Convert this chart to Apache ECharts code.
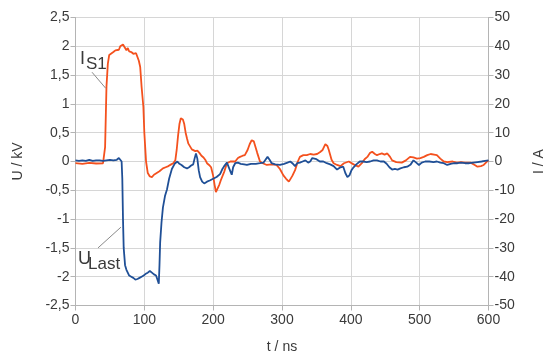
<!DOCTYPE html>
<html>
<head>
<meta charset="utf-8">
<script src="https://cdn.jsdelivr.net/npm/echarts@6/dist/echarts.min.js"></script>
<style>
  html, body { margin: 0; padding: 0; background: #fff; }
  #chart { width: 547px; height: 358px; }
</style>
</head>
<body>
<div id="chart"></div>
<script>
// I_S1 (orange), time in ns, current in A (right axis)
var tIs = [0, 10, 20, 30, 40, 42, 43, 45, 47, 49, 52, 55, 58, 60, 63, 65, 67, 69, 71, 74, 76, 78, 81, 84, 86, 88, 90, 92, 94, 96, 98.6, 100, 102.5, 105, 108, 111, 114, 118, 122, 127, 131, 135, 139, 142, 145, 147, 149, 151, 153, 154.5, 156, 158, 160, 162, 164, 166, 169, 171, 174, 177, 180, 183, 186, 189, 191, 194, 197, 200, 202, 204, 206, 209, 211, 213, 216, 220, 225, 232, 236, 239, 243, 246, 250, 253, 256, 259, 261, 264, 268, 272, 278, 285, 292, 297, 302, 306, 310, 312, 315, 319, 323, 326, 331, 336, 341, 346, 351, 355, 359, 363, 366, 368, 372, 375, 380, 385, 390, 397, 404, 411, 416, 420, 424, 428, 431, 435, 438, 442, 445, 449, 453, 457, 460, 466, 474, 480, 486, 491, 496, 501, 506, 511, 516, 521, 525, 530, 535, 540, 548, 554, 560, 566, 574, 580, 584, 589, 593, 597, 600];
var iS1 = [-0.6, -0.8, -0.5, -0.7, -0.6, -0.8, 5, 26, 34, 37, 37.5, 38, 38.6, 39.2, 38.8, 40, 40.4, 40.6, 40, 38.6, 39.4, 38.2, 38, 37.4, 37, 37.6, 37.2, 35, 32.8, 26, 19, 10, 0, -4, -5.2, -5.4, -4.6, -4, -3.4, -2.4, -2, -1.6, -1, -0.6, 0.4, 4, 9, 13, 15, 15.2, 14.6, 13, 10, 8, 6.2, 5.6, 4.2, 4, 3.6, 3.8, 3, 2, 1.4, 0.4, -0.6, -1.2, -2, -5, -8, -10.6, -10, -8, -6.6, -6, -3.6, -0.6, 0, 0, 1.2, 1.6, 2, 2.2, 4, 6, 7.4, 7, 6.8, 3, 0, -0.6, -1.2, -1, -1.2, -2.6, -4.8, -6, -7, -7.2, -5, -3, 0, 1.6, 2.2, 2.2, 2.6, 2.4, 2.6, 3.2, 4, 6, 5.4, 4, 0.6, -0.6, -1.2, -1.6, -0.6, 0, -1, -1.8, -0.6, 0.8, 1.6, 3, 3.4, 2.6, 2.2, 2.6, 2.8, 2.4, 2.8, 1.6, 0.4, -0.2, -0.4, 0.4, 1.6, 1.4, 1, 1.2, 1.6, 2.2, 2.6, 2.4, 2.2, 1, 0, -0.2, 0, -0.4, -0.2, -0.4, -0.4, -1.2, -1.8, -1.6, -1.2, -0.2, 0.4];

// U_Last (blue), time in ns, voltage in kV (left axis)
var tU = [0, 5, 10, 15, 20, 25, 30, 35, 40, 45, 50, 55, 60, 63, 65, 67, 68, 69, 70, 72, 74, 76, 78, 81, 84, 87, 90, 93, 96, 99, 102, 105, 108, 111, 114, 117, 119, 121, 122, 123, 125, 127, 130, 133, 136, 140, 144, 148, 151, 154, 158, 162, 165, 168, 171, 173, 175, 177, 179, 181, 184, 187, 191, 195, 200, 205, 210, 213, 216, 220, 222, 225, 227, 229, 232, 236, 240, 245, 249, 255, 262, 268, 273, 276, 279, 282, 285, 290, 297, 303, 308, 312, 316, 319, 322, 326, 330, 334, 338, 341, 344, 346, 350, 355, 360, 365, 370, 375, 380, 385, 389, 392, 395, 398, 401, 404, 408, 413, 418, 423, 428, 433, 438, 443, 448, 452, 456, 460, 464, 468, 472, 477, 482, 487, 491, 495, 499, 503, 508, 514, 520, 525, 530, 535, 540, 545, 550, 555, 560, 566, 572, 578, 584, 590, 595, 600];
var uLast = [0.02, 0.01, 0.02, 0.01, 0.03, 0.01, 0.02, 0.02, 0.01, 0.02, 0.03, 0.02, 0.03, 0.06, 0.05, 0, -0.3, -1.0, -1.5, -1.8, -1.88, -1.9, -1.98, -2.0, -2.02, -2.05, -2.04, -2.02, -2.0, -1.98, -1.95, -1.93, -1.9, -1.93, -1.96, -1.98, -2.05, -2.12, -1.8, -1.4, -1.05, -0.8, -0.6, -0.48, -0.3, -0.13, -0.04, 0, -0.04, -0.06, -0.1, -0.12, -0.1, -0.07, -0.05, 0.05, 0.14, 0.05, -0.15, -0.27, -0.35, -0.38, -0.35, -0.33, -0.3, -0.27, -0.22, -0.14, -0.08, -0.02, -0.05, -0.17, -0.23, -0.1, -0.03, -0.02, -0.04, -0.05, -0.06, -0.04, -0.04, -0.03, -0.02, 0.03, 0.08, 0.03, -0.03, -0.05, -0.06, -0.04, -0.02, 0, -0.04, -0.08, -0.03, -0.02, 0, 0.02, -0.02, 0, 0.06, 0.08, 0.04, 0, 0, -0.03, -0.05, -0.08, -0.14, -0.1, -0.09, -0.2, -0.27, -0.24, -0.15, -0.1, -0.05, 0, 0, -0.01, 0, 0.02, 0.02, 0, 0, -0.04, -0.1, -0.14, -0.13, -0.14, -0.12, -0.1, -0.09, -0.05, 0.02, -0.02, -0.06, -0.02, 0, 0, -0.01, 0, -0.02, -0.03, -0.06, -0.04, -0.03, -0.03, -0.02, -0.03, -0.03, -0.02, -0.01, 0, 0.01, 0.02];

var xTicks = { min: 0, max: 600, step: 100 };
var uTicks = { min: -2.5, max: 2.5, step: 0.5 };
var iTicks = { min: -50, max: 50, step: 10 };

var axisGray = '#b4b4b4';
var gridGray = '#d6d6d6';
var textGray = '#3a3a3a';
var font = 'Liberation Sans';

function pairs(xs, ys) {
    return xs.map(function (x, i) { return [x, ys[i]]; });
}

var chart = echarts.init(document.getElementById('chart'));

var option = {
    animation: false,
    backgroundColor: '#fff',
    textStyle: { fontFamily: font },
    grid: { left: 75.5, right: 58.5, top: 17.5, bottom: 52.5, containLabel: false, outerBoundsMode: 'none' },
    xAxis: {
        type: 'value',
        min: xTicks.min, max: xTicks.max, interval: xTicks.step,
        name: 't / ns', nameLocation: 'middle', nameGap: 35,
        nameTextStyle: { color: textGray, fontSize: 14, fontFamily: font },
        axisLine: { show: true, onZero: false, lineStyle: { color: axisGray } },
        axisTick: { show: true, length: 5, lineStyle: { color: axisGray } },
        axisLabel: { color: textGray, fontSize: 14, fontFamily: font, margin: 8 },
        splitLine: { show: true, lineStyle: { color: gridGray } }
    },
    yAxis: [{
        type: 'value',
        min: uTicks.min, max: uTicks.max, interval: uTicks.step,
        name: 'U / kV', nameLocation: 'middle', nameGap: 50, nameRotate: 90,
        nameTextStyle: { color: textGray, fontSize: 14, fontFamily: font },
        axisLine: { show: true, onZero: false, lineStyle: { color: axisGray } },
        axisTick: { show: true, length: 5, lineStyle: { color: axisGray } },
        axisLabel: {
            color: textGray, fontSize: 14, fontFamily: font, margin: 6,
            formatter: function (v) { return String(Math.round(v * 10) / 10).replace('.', ','); }
        },
        splitLine: { show: true, lineStyle: { color: gridGray } }
    }, {
        type: 'value',
        position: 'right',
        min: iTicks.min, max: iTicks.max, interval: iTicks.step,
        name: 'I / A', nameLocation: 'middle', nameGap: 44, nameRotate: 90,
        nameTextStyle: { color: textGray, fontSize: 14, fontFamily: font },
        axisLine: { show: true, onZero: false, lineStyle: { color: axisGray } },
        axisTick: { show: true, length: 5, lineStyle: { color: axisGray } },
        axisLabel: { color: textGray, fontSize: 14, fontFamily: font, margin: 6 },
        splitLine: { show: false }
    }],
    series: [{
        name: 'I_S1',
        type: 'line',
        yAxisIndex: 1,
        data: pairs(tIs, iS1),
        showSymbol: false,
        smooth: false,
        lineStyle: { color: '#f4511e', width: 1.8 },
        markLine: {
            silent: true, symbol: ['none', 'none'], label: { show: false },
            lineStyle: { color: '#8a8a8a', width: 1, type: 'solid' },
            data: [[{ coord: [24, 31] }, { coord: [44, 25.4] }]]
        }
    }, {
        name: 'U_Last',
        type: 'line',
        yAxisIndex: 0,
        data: pairs(tU, uLast),
        showSymbol: false,
        smooth: false,
        lineStyle: { color: '#1f4f96', width: 1.8 },
        markLine: {
            silent: true, symbol: ['none', 'none'], label: { show: false },
            lineStyle: { color: '#8a8a8a', width: 1, type: 'solid' },
            data: [[{ coord: [32.7, -1.5] }, { coord: [66, -1.14] }]]
        }
    }],
    graphic: [
        { type: 'text', left: 80, top: 50, style: { text: 'I', fill: textGray, font: '18px "Liberation Sans"' } },
        { type: 'text', left: 86, top: 56, style: { text: 'S1', fill: textGray, font: '17px "Liberation Sans"' } },
        { type: 'text', left: 78, top: 250, style: { text: 'U', fill: textGray, font: '18px "Liberation Sans"' } },
        { type: 'text', left: 88, top: 256, style: { text: 'Last', fill: textGray, font: '17px "Liberation Sans"' } }
    ]
};

chart.setOption(option);
</script>
</body>
</html>
